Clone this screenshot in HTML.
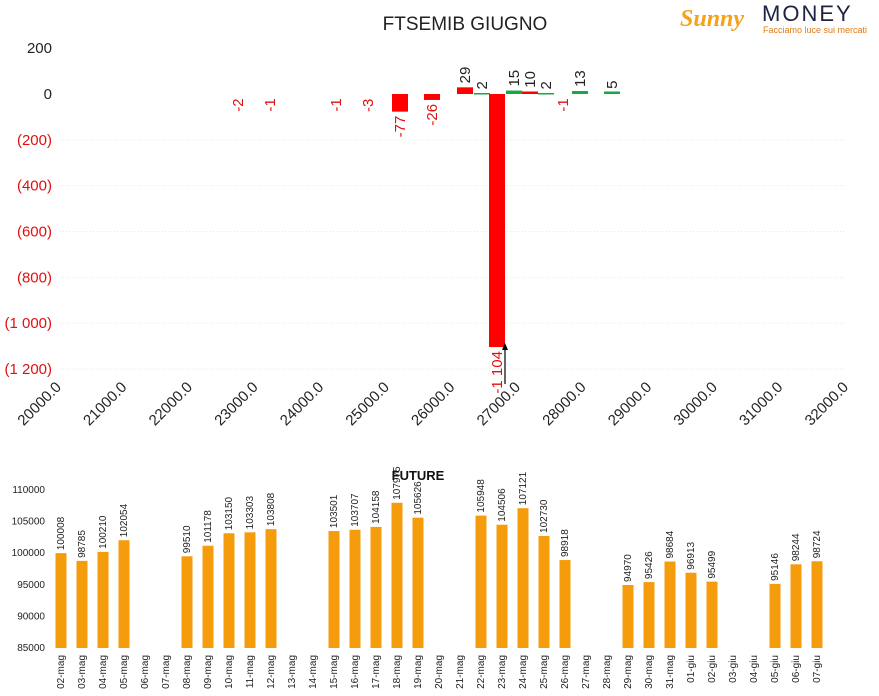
<!DOCTYPE html>
<html><head><meta charset="utf-8"><style>
body{margin:0;background:#fff;}
svg{display:block;font-family:"Liberation Sans","DejaVu Sans",sans-serif;}
</style></head><body>
<svg id="s" width="879" height="696" viewBox="0 0 879 696" xmlns="http://www.w3.org/2000/svg">
<text x="465" y="30" font-size="19" text-anchor="middle" fill="#222">FTSEMIB GIUGNO</text>
<g>
<text x="680" y="26" font-size="24" font-style="italic" font-weight="bold" fill="#f5a21b" font-family="Liberation Serif,serif">Sunny</text>
<text x="762" y="21" font-size="22" fill="#1d2340" letter-spacing="2">MONEY</text>
<text x="763" y="33" font-size="9" fill="#e07a14">Facciamo luce sui mercati</text>
</g>
<g id="gtop"></g>
<g id="gbot"></g>
<text x="418" y="480" font-size="13" font-weight="bold" text-anchor="middle" fill="#111">FUTURE</text>
</svg>
<script>
(function(){
var NS="http://www.w3.org/2000/svg";
function el(p,t,a,txt){var e=document.createElementNS(NS,t);for(var k in a)e.setAttribute(k,a[k]);if(txt!=null)e.textContent=txt;p.appendChild(e);return e;}
var gt=document.getElementById('gtop'),gb=document.getElementById('gbot');
function ty(v){return 94-v*0.2292;}
var yl=[[200,"200"],[0,"0"],[-200,"(200)"],[-400,"(400)"],[-600,"(600)"],[-800,"(800)"],[-1000,"(1 000)"],[-1200,"(1 200)"]];
yl.forEach(function(a){var y=ty(a[0]);
 if(a[0]<0) el(gt,'line',{x1:60,x2:845,y1:y,y2:y,stroke:'#e8e8e8','stroke-width':1,'stroke-dasharray':'1,2'});
 el(gt,'text',{x:52,y:y+5,'font-size':15,'text-anchor':'end',fill:a[0]<0?'#e01010':'#222'},a[1]);});
for(var i=0;i<=12;i++){var x=62+i*65.6;
 el(gt,'text',{x:x,y:388,'font-size':15,'text-anchor':'end',fill:'#222',transform:'rotate(-45 '+x+' 388)'},(20000+i*1000)+'.0');}
var bars=[[238,-2,0],[270,-1,0],[336,-1,0],[368,-3,0],[400,-77,1],[432,-26,1],[465,29,1],[482,2,2],[497,-1104,1],[514,15,2],[530,10,1],[546,2,2],[563,-1,0],[580,13,2],[612,5,2]];
bars.forEach(function(b){var x=b[0],v=b[1];var y0=94,y1=ty(v);
 var col=b[2]==2?'#1aa64a':'#ff0000';
 if(b[2]){var h=Math.abs(y1-y0);if(h<2.5)h=2.5;var yy=v>=0?y0-h:y0;
  if(b[2]==2&&Math.abs(v)<5){h=1.5;yy=y0-1;}
  el(gt,'rect',{x:x-8,y:yy,width:16,height:h,fill:col});}
 var ly;
 if(v<0){ly=Math.max(y0,y1)+4;el(gt,'text',{x:x+5,y:ly,'font-size':15,'text-anchor':'end',fill:'#e01010',transform:'rotate(-90 '+(x+5)+' '+ly+')'},v==-1104?'-1 104':v);}
 else{ly=Math.min(y0,y1)-4;el(gt,'text',{x:x+5,y:ly,'font-size':15,'text-anchor':'start',fill:'#222',transform:'rotate(-90 '+(x+5)+' '+ly+')'},v);}
});
el(gt,'line',{x1:505,x2:505,y1:384,y2:348,stroke:'#000','stroke-width':1.2});
el(gt,'polygon',{points:'502,350 508,350 505,343',fill:'#000'});
function by(v){return 648-(v-85000)*0.00632;}
[85000,90000,95000,100000,105000,110000].forEach(function(v){el(gb,'text',{x:45,y:by(v)+3,'font-size':10,'text-anchor':'end',fill:'#222'},v);});
var vals=[100008,98785,100210,102054,0,0,99510,101178,103150,103303,103808,0,0,103501,103707,104158,107975,105626,0,0,105948,104506,107121,102730,98918,0,0,94970,95426,98684,96913,95499,0,0,95146,98244,98724];
for(var j=0;j<37;j++){var bx=61+j*21;var lab;
 if(j<30)lab=('0'+(j+2)).slice(-2)+'-mag';else lab='0'+(j-29)+'-giu';
 el(gb,'text',{x:bx+3,y:655,'font-size':10,'text-anchor':'end',fill:'#222',transform:'rotate(-90 '+(bx+3)+' 655)'},lab);
 var v=vals[j];if(v){var y=by(v);el(gb,'rect',{x:bx-5.5,y:y,width:11,height:648-y,fill:'#f59c0c'});
  el(gb,'text',{x:bx+3,y:y-3,'font-size':10,'text-anchor':'start',fill:'#222',transform:'rotate(-90 '+(bx+3)+' '+(y-3)+')'},v);}
}
})();
</script>
</body></html>
